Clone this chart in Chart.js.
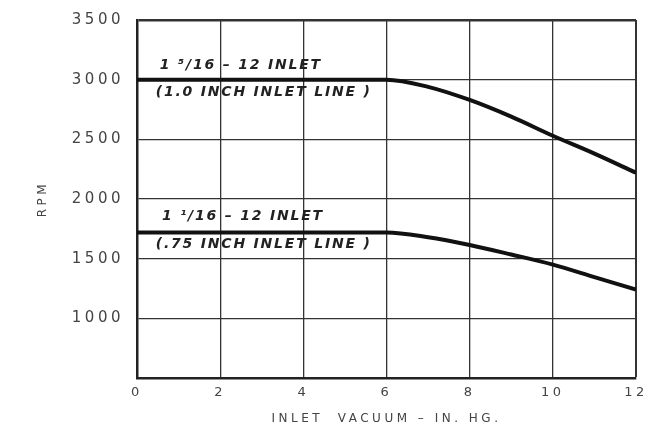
<!DOCTYPE html>
<html><head><meta charset="utf-8">
<script src="https://cdn.jsdelivr.net/npm/chart.js@4"></script>
<style>html,body{margin:0;padding:0;background:#fff}#wrap{width:647px;height:429px}</style>
</head><body><div id="wrap"><canvas id="c"></canvas></div>
<script>
const vacuum = [0, 2, 4, 6, 7, 8, 9, 10, 11, 12];
const rpmLarge = [3000, 3000, 3000, 3000, 2940, 2830, 2690, 2530, 2380, 2220];
const rpmSmall = [1720, 1720, 1720, 1720, 1680, 1615, 1535, 1450, 1345, 1240];
const yTicks = [1000, 1500, 2000, 2500, 3000, 3500];
const xTicks = [0, 2, 4, 6, 8, 10, 12];
const curveLabels = [
  {text: '1 ⁵/16 – 12 INLET', x: 0.55, y: 3123},
  {text: '(1.0 INCH INLET LINE )', x: 0.45, y: 2897},
  {text: '1 ¹/16 – 12 INLET', x: 0.6, y: 1858},
  {text: '(.75 INCH INLET LINE )', x: 0.45, y: 1623}
];

const ink = '#222';
const labelPlugin = {
  id: 'curveLabels',
  beforeInit(chart) { chart.ctx.letterSpacing = '3.5px'; },
  beforeDraw(chart) { chart.ctx.letterSpacing = '3.5px'; },
  afterDatasetsDraw(chart) {
    const ctx = chart.ctx, xs = chart.scales.x, ys = chart.scales.y;
    ctx.save();
    ctx.letterSpacing = '1.8px';
    ctx.font = 'italic bold 14px "DejaVu Sans"';
    ctx.fillStyle = ink;
    ctx.textBaseline = 'middle';
    ctx.textAlign = 'left';
    curveLabels.forEach(l => ctx.fillText(l.text, xs.getPixelForValue(l.x), ys.getPixelForValue(l.y)));
    ctx.restore();
  }
};

new Chart(document.getElementById('c'), {
  type: 'line',
  data: {
    datasets: [
      {data: vacuum.map((v, i) => ({x: v, y: rpmLarge[i]})), borderColor: '#111', borderWidth: 4, pointRadius: 0, cubicInterpolationMode: 'monotone'},
      {data: vacuum.map((v, i) => ({x: v, y: rpmSmall[i]})), borderColor: '#111', borderWidth: 4, pointRadius: 0, cubicInterpolationMode: 'monotone'}
    ]
  },
  options: {
    responsive: true, maintainAspectRatio: false, animation: false,
    layout: {padding: {left: 36, right: 11, top: 20, bottom: 3}},
    plugins: {legend: {display: false}, tooltip: {enabled: false}},
    scales: {
      x: {
        type: 'linear', min: 0, max: 12,
        afterBuildTicks: s => { s.ticks = xTicks.map(v => ({value: v})); },
        afterFit: s => { s.height = 48; s.paddingRight = 0; s.paddingLeft = 0; },
        grid: {color: '#333', lineWidth: c => c.tick && c.tick.value === 12 ? 2 : 1.3, drawTicks: false},
        border: {color: '#222', width: 2.5},
        ticks: {color: '#444', padding: 7, font: {family: 'DejaVu Sans', size: 13}},
        title: {display: true, text: 'INLET  VACUUM – IN. HG.', color: '#444', font: {family: 'DejaVu Sans', size: 12}, padding: {top: 0, bottom: 0}}
      },
      y: {
        type: 'linear', min: 500, max: 3500,
        afterBuildTicks: s => { s.ticks = [500].concat(yTicks).map(v => ({value: v})); },
        afterFit: s => { s.width = 101; s.paddingTop = 0; s.paddingBottom = 0; },
        grid: {color: '#333', lineWidth: c => c.tick && c.tick.value === 3500 ? 2.5 : 1.3, drawTicks: false},
        border: {color: '#222', width: 2.5},
        ticks: {color: '#444', padding: 13, font: {family: 'DejaVu Sans', size: 15}, callback: v => v === 500 ? '' : String(v)},
        title: {display: true, text: 'RPM', color: '#444', font: {family: 'DejaVu Sans', size: 12}, padding: {top: 0, bottom: 0}}
      }
    }
  },
  plugins: [labelPlugin]
});
</script></body></html>
